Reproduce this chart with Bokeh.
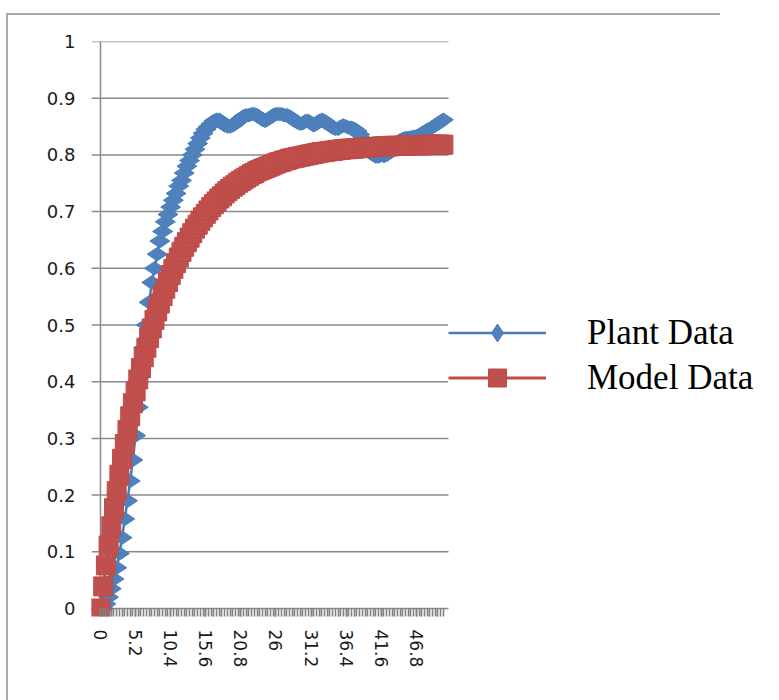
import numpy as np
from bokeh.plotting import figure
from bokeh.models import (Range1d, FixedTicker, Legend, LegendItem,
                          InlineStyleSheet)
from bokeh.embed import file_html
from bokeh.resources import INLINE

# ---------------- data ----------------
times = [0, 0.4, 0.8, 1.2, 1.6, 2, 2.4, 2.8, 3.2, 3.6,
         4, 4.4, 4.8, 5.2, 5.6, 6, 6.4, 6.8, 7.2, 7.6,
         8, 8.4, 8.8, 9.2, 9.6, 10, 10.4, 10.8, 11.2, 11.6,
         12, 12.4, 12.8, 13.2, 13.6, 14, 14.4, 14.8, 15.2, 15.6,
         16, 16.4, 16.8, 17.2, 17.6, 18, 18.4, 18.8, 19.2, 19.6,
         20, 20.4, 20.8, 21.2, 21.6, 22, 22.4, 22.8, 23.2, 23.6,
         24, 24.4, 24.8, 25.2, 25.6, 26, 26.4, 26.8, 27.2, 27.6,
         28, 28.4, 28.8, 29.2, 29.6, 30, 30.4, 30.8, 31.2, 31.6,
         32, 32.4, 32.8, 33.2, 33.6, 34, 34.4, 34.8, 35.2, 35.6,
         36, 36.4, 36.8, 37.2, 37.6, 38, 38.4, 38.8, 39.2, 39.6,
         40, 40.4, 40.8, 41.2, 41.6, 42, 42.4, 42.8, 43.2, 43.6,
         44, 44.4, 44.8, 45.2, 45.6, 46, 46.4, 46.8, 47.2, 47.6,
         48, 48.4, 48.8, 49.2, 49.6, 50, 50.4, 50.8]

plant = [0.000, 0.000, 0.008, 0.020, 0.035, 0.052, 0.072, 0.097, 0.125, 0.158,
         0.190, 0.225, 0.262, 0.305, 0.355, 0.410, 0.460, 0.500, 0.540, 0.575,
         0.600, 0.625, 0.648, 0.665, 0.682, 0.695, 0.708, 0.720, 0.732, 0.745,
         0.755, 0.768, 0.780, 0.790, 0.800, 0.810, 0.820, 0.830, 0.838, 0.845,
         0.850, 0.855, 0.860, 0.862, 0.862, 0.858, 0.852, 0.850, 0.850, 0.852,
         0.856, 0.860, 0.864, 0.868, 0.870, 0.870, 0.872, 0.872, 0.870, 0.866,
         0.862, 0.860, 0.863, 0.866, 0.870, 0.872, 0.872, 0.872, 0.870, 0.870,
         0.868, 0.864, 0.860, 0.857, 0.855, 0.856, 0.860, 0.860, 0.856, 0.852,
         0.855, 0.860, 0.862, 0.860, 0.856, 0.852, 0.848, 0.846, 0.846, 0.850,
         0.852, 0.850, 0.848, 0.848, 0.846, 0.842, 0.836, 0.828, 0.820, 0.812,
         0.805, 0.800, 0.797, 0.797, 0.800, 0.798, 0.800, 0.806, 0.812, 0.818,
         0.822, 0.826, 0.828, 0.830, 0.830, 0.831, 0.832, 0.833, 0.835, 0.838,
         0.841, 0.844, 0.846, 0.849, 0.852, 0.855, 0.859, 0.862]

model = [0.000, 0.039, 0.076, 0.111, 0.145, 0.177, 0.207, 0.236, 0.264, 0.290,
         0.315, 0.339, 0.362, 0.383, 0.404, 0.424, 0.443, 0.460, 0.477, 0.494,
         0.509, 0.524, 0.538, 0.551, 0.564, 0.576, 0.588, 0.599, 0.609, 0.619,
         0.629, 0.638, 0.646, 0.654, 0.662, 0.670, 0.677, 0.684, 0.690, 0.696,
         0.702, 0.708, 0.713, 0.718, 0.723, 0.727, 0.732, 0.736, 0.740, 0.744,
         0.747, 0.751, 0.754, 0.757, 0.760, 0.763, 0.766, 0.768, 0.771, 0.773,
         0.775, 0.777, 0.779, 0.781, 0.783, 0.785, 0.787, 0.788, 0.790, 0.791,
         0.793, 0.794, 0.795, 0.796, 0.797, 0.798, 0.799, 0.800, 0.801, 0.802,
         0.803, 0.804, 0.805, 0.805, 0.806, 0.807, 0.807, 0.808, 0.809, 0.809,
         0.810, 0.810, 0.811, 0.811, 0.811, 0.812, 0.812, 0.813, 0.813, 0.813,
         0.814, 0.814, 0.814, 0.814, 0.815, 0.815, 0.815, 0.815, 0.816, 0.816,
         0.816, 0.816, 0.816, 0.817, 0.817, 0.817, 0.817, 0.817, 0.817, 0.817,
         0.817, 0.818, 0.818, 0.818, 0.818, 0.818, 0.818, 0.818]

x_tick_labels = ["0", "5.2", "10.4", "15.6", "20.8", "26", "31.2", "36.4", "41.6", "46.8"]
y_ticks = [0, 0.1, 0.2, 0.3, 0.4, 0.5, 0.6, 0.7, 0.8, 0.9, 1]
y_tick_labels = ["0", "0.1", "0.2", "0.3", "0.4", "0.5", "0.6", "0.7", "0.8", "0.9", "1"]
series_names = ["Plant Data", "Model Data"]

# category positions (Excel category axis: one slot per time sample)
idx = list(range(len(times)))
x_tick_idx = [i for i, t in enumerate(times) if f"{t:g}" in x_tick_labels]

GRID = "#8a8a8a"
BLUE_LINE, BLUE_FILL = "#4A7EBB", "#4F81BD"
RED_LINE, RED_FILL = "#BE4B48", "#C0504D"

# plot-area extent in category units (gridlines start a tick-length left of
# the first category and end a little after the last one)
X_LO, X_HI = -3.33, len(times) + 0.9

p = figure(width=779, height=700, output_backend="svg", toolbar_location=None,
           x_range=Range1d(X_LO, X_LO + 688 / 2.7), y_range=Range1d(-0.0141, 1.0),
           min_border_left=91, min_border_right=0, min_border_top=41,
           min_border_bottom=84)
p.outline_line_color = None
p.background_fill_color = "white"
p.border_fill_color = "white"

# horizontal gridlines (drawn as segments so they stop at the plot area's edge)
p.xgrid.visible = False
p.ygrid.visible = False
p.segment(x0=[X_LO] * len(y_ticks), x1=[X_HI] * len(y_ticks),
          y0=y_ticks, y1=y_ticks, line_color=GRID, line_width=1.5)

# y axis
p.yaxis.ticker = FixedTicker(ticks=y_ticks)
p.yaxis.major_label_overrides = dict(zip(y_ticks, y_tick_labels))
p.yaxis.axis_line_color = None
p.yaxis.major_tick_in = 0
p.yaxis.major_tick_out = 0
p.yaxis.minor_tick_in = 0
p.yaxis.minor_tick_out = 0
p.yaxis.major_label_standoff = 16
p.yaxis.major_label_text_font = "DejaVu Sans"
p.yaxis.major_label_text_font_size = "18px"
p.yaxis.major_label_text_color = "#1a1a1a"

# x axis (category ticks drawn up to the zero line)
p.xaxis.ticker = FixedTicker(ticks=x_tick_idx, minor_ticks=idx)
p.xaxis.major_label_overrides = dict(zip(x_tick_idx, x_tick_labels))
p.xaxis.axis_line_color = None
p.xaxis.major_tick_in = 8
p.xaxis.major_tick_out = 0
p.xaxis.minor_tick_in = 8
p.xaxis.minor_tick_out = 0
p.xaxis.major_tick_line_color = "#808080"
p.xaxis.minor_tick_line_color = "#808080"
p.xaxis.major_tick_line_width = 1.6
p.xaxis.minor_tick_line_width = 1.6
p.xaxis.major_label_orientation = "vertical"
p.xaxis.major_label_standoff = 13
p.xaxis.major_label_text_font = "DejaVu Sans"
p.xaxis.major_label_text_font_size = "17px"
p.xaxis.major_label_text_color = "#1a1a1a"

# vertical axis line at the first category
p.segment(x0=[0], x1=[0], y0=[-0.0141], y1=[1.0], line_color=GRID, line_width=1.5)

# series
bl = p.line(idx, plant, line_color=BLUE_LINE, line_width=2.5)
bs = p.scatter(idx, plant, marker="diamond", angle=np.pi / 2, size=20,
               fill_color=BLUE_FILL, line_color=BLUE_LINE)
rl = p.line(idx, model, line_color=RED_LINE, line_width=3)
rs = p.scatter(idx, model, marker="square", size=19,
               fill_color=RED_FILL, line_color=RED_LINE)

legend = Legend(items=[LegendItem(label=series_names[0], renderers=[bl, bs]),
                       LegendItem(label=series_names[1], renderers=[rl, rs])],
                location=(357, 216))
legend.glyph_width = 98
legend.glyph_height = 45
legend.label_height = 45
legend.label_standoff = 41
legend.spacing = 0
legend.padding = 20
legend.margin = 0
legend.border_line_color = None
legend.background_fill_color = "white"
legend.background_fill_alpha = 1.0
legend.label_text_font = "Liberation Serif"
legend.label_text_font_size = "35px"
legend.label_text_color = "black"
p.add_layout(legend)

# chart-area border (top and left edges visible in the reference)
p.stylesheets = [InlineStyleSheet(css=(
    ":host::after { content: ''; position: absolute; left: 6px; top: 13px;"
    " width: 712px; height: 686px; border-top: 2px solid #a9a9a9;"
    " border-left: 2px solid #a9a9a9; pointer-events: none; }"))]

open("out.html", "w").write(file_html(p, INLINE))
